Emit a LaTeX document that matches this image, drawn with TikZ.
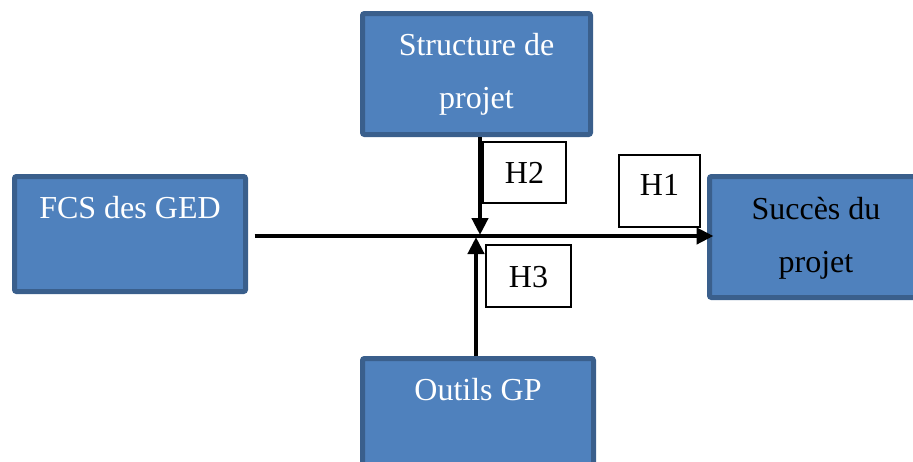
\documentclass[tikz,border=0pt]{standalone}
\usepackage{fontspec}
\setmainfont{Liberation Serif}
\usetikzlibrary{arrows.meta}
\definecolor{boxfill}{HTML}{4F81BD}
\definecolor{boxline}{HTML}{3A5F8C}
\begin{document}
\begin{tikzpicture}[x=1pt,y=-1pt,
  bluebox/.style={draw=boxline, fill=boxfill, line width=5pt, rounded corners=2pt, inner sep=0pt},
  hbox/.style={draw=black, fill=white, line width=1.3pt, inner sep=0pt, text height=22pt, text depth=0pt,
    font=\fontsize{32}{38}\selectfont},
  boxtext/.style={anchor=base, align=center, inner sep=0pt, font=\fontsize{32}{53}\selectfont},
  arr/.style={line width=4.2pt, -{Triangle[length=17pt,width=16pt]}}]
\useasboundingbox (0,0) rectangle (913,461);
\clip (0,0) rectangle (913,461);
% blue boxes
\node[bluebox, minimum width=228pt, minimum height=121pt] (struct) at (476.5,74) {};
\node[bluebox, minimum width=231pt, minimum height=115pt] (fcs) at (130,234) {};
\node[bluebox, minimum width=213pt, minimum height=121pt] (succ) at (816,237) {};
\node[bluebox, minimum width=231pt, minimum height=119pt] (outils) at (478,418) {};
% texts (base anchor = baseline of last line)
\node[boxtext, text=white] (structT) at (476.5,108) {Structure de\\projet};
\node[boxtext, text=white] (fcsT) at (130,218) {FCS des GED};
\node[boxtext, text=black] (succT) at (816,272) {Succès du\\projet};
\node[boxtext, text=white] (outilsT) at (478,400) {Outils GP};
% hypothesis boxes
\node[hbox, minimum width=83pt, minimum height=61pt] (h2) at (524.5,172.5) {H2};
\node[hbox, minimum width=81pt, minimum height=72pt, text depth=14pt] (h1) at (659.5,191) {H1};
\node[hbox, minimum width=85pt, minimum height=62pt] (h3) at (528.5,276) {H3};
% connectors
\coordinate (hub) at (478,236);
\draw[arr] ([xshift=6.5pt]fcs.east |- hub) -- ([xshift=6.5pt]succ.west |- hub);
\draw[arr] ([xshift=3.5pt]struct.south) -- ([xshift=3.5pt,yshift=1pt]struct.south |- hub);
\draw[arr] ([xshift=-2pt]outils.north) -- ([xshift=-2pt,yshift=-1pt]outils.north |- hub);
\end{tikzpicture}
\end{document}
